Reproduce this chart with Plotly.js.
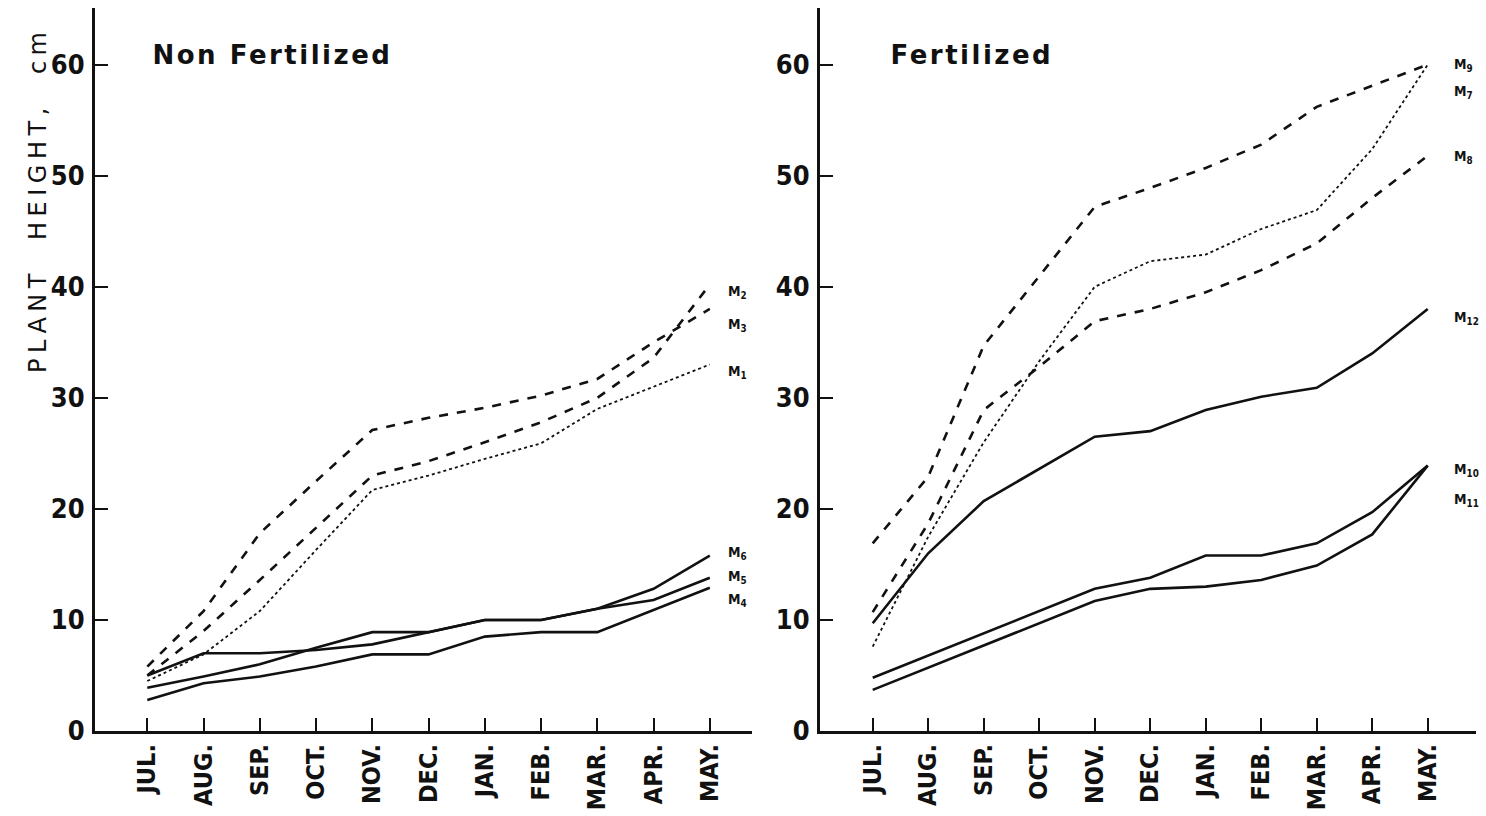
<!DOCTYPE html>
<html>
<head>
<meta charset="utf-8">
<script src="https://cdn.plot.ly/plotly-3.0.1.min.js"></script>
<style>
html,body{margin:0;padding:0;background:#fff;}
#chart{width:1486px;height:816px;}
</style>
</head>
<body>
<div id="chart"></div>
<script>
// Months (x categories)
const months = ['JUL.','AUG.','SEP.','OCT.','NOV.','DEC.','JAN.','FEB.','MAR.','APR.','MAY.'];

// Non Fertilized panel
const M1 = [4.5, 6.9, 10.8, 16.3, 21.7, 23.0, 24.5, 25.9, 29.0, 31.0, 33.0];
const M2 = [5.0, 9.0, 13.6, 18.3, 23.0, 24.3, 26.0, 27.8, 30.0, 33.6, 40.2];
const M3 = [5.8, 10.8, 17.8, 22.5, 27.1, 28.2, 29.1, 30.2, 31.7, 35.0, 38.0];
const M4 = [2.8, 4.3, 4.9, 5.8, 6.9, 6.9, 8.5, 8.9, 8.9, 10.9, 12.9];
const M5 = [5.0, 7.0, 7.0, 7.3, 7.8, 8.9, 10.0, 10.0, 11.0, 11.8, 13.8];
const M6 = [3.9, 4.9, 6.0, 7.5, 8.9, 8.9, 10.0, 10.0, 11.0, 12.8, 15.8];

// Fertilized panel
const M7  = [7.6, 17.5, 26.0, 33.3, 40.0, 42.3, 42.9, 45.2, 46.9, 52.4, 60.0];
const M8  = [10.7, 18.7, 28.9, 32.8, 36.9, 38.0, 39.5, 41.5, 43.9, 48.0, 51.8];
const M9  = [16.9, 22.9, 34.7, 41.0, 47.2, 48.9, 50.7, 52.8, 56.2, 58.1, 60.0];
const M10 = [4.8, 6.8, 8.8, 10.8, 12.8, 13.8, 15.8, 15.8, 16.9, 19.7, 23.9];
const M11 = [3.7, 5.7, 7.7, 9.7, 11.7, 12.8, 13.0, 13.6, 14.9, 17.7, 23.9];
const M12 = [9.7, 16.0, 20.7, 23.6, 26.5, 27.0, 28.9, 30.1, 30.9, 34.0, 38.0];

// Series label names and their label heights (cm)
const leftNames  = ['2','3','1','6','5','4'];
const leftLabelY = [39.5, 36.6, 32.3, 16.0, 13.9, 11.8];
const rightNames  = ['9','7','8','12','10','11'];
const rightLabelY = [60.0, 57.5, 51.7, 37.2, 23.5, 20.8];

const yTicks = [0,10,20,30,40,50,60];

function tr(y, xa, ya, dash, w){
  return {x: months, y: y, xaxis: xa, yaxis: ya, type:'scatter', mode:'lines',
          line:{color:'#111', width:w, dash:dash}, hoverinfo:'skip', showlegend:false};
}

const data = [
  tr(M1,'x','y','dot',1.8),
  tr(M2,'x','y','dash',2.6),
  tr(M3,'x','y','dash',2.6),
  tr(M4,'x','y','solid',2.6),
  tr(M5,'x','y','solid',2.6),
  tr(M6,'x','y','solid',2.6),
  tr(M7,'x2','y2','dot',1.8),
  tr(M8,'x2','y2','dash',2.6),
  tr(M9,'x2','y2','dash',2.6),
  tr(M10,'x2','y2','solid',2.6),
  tr(M11,'x2','y2','solid',2.6),
  tr(M12,'x2','y2','solid',2.6)
];

const fontFam = 'DejaVu Sans, Arial, sans-serif';
const condFam = 'DejaVu Sans Condensed, DejaVu Sans, Arial, sans-serif';

function xax(domain, range){
  return {domain: domain, range: range, type:'category', showgrid:false, zeroline:false,
    showline:true, linecolor:'#111', linewidth:3, ticks:'inside', ticklen:13, tickwidth:2,
    tickcolor:'#111', tickangle:-90, tickfont:{family:condFam, size:25, color:'#111', weight:'bold'},
    anchor: domain[0] < 0.5 ? 'y' : 'y2', fixedrange:true};
}
function yax(domain, anchor){
  return {domain: domain, range:[0, 65.1], showgrid:false, zeroline:false, showline:true,
    linecolor:'#111', linewidth:3, ticks:'inside', ticklen:13, tickwidth:2, tickcolor:'#111',
    tickvals: yTicks, ticktext: yTicks.map(String), ticklabelstandoff: 2,
    tickfont:{family:condFam, size:27, color:'#111', weight:'bold'}, anchor: anchor, fixedrange:true};
}

const annotations = [];
leftNames.forEach((n,i)=>annotations.push({xref:'x', yref:'y', x: months.length-1, y: leftLabelY[i],
  text:'M<sub>'+n+'</sub>', showarrow:false, xanchor:'left', yanchor:'middle', xshift:16,
  font:{family:condFam, size:14, color:'#111', weight:'bold'}}));
rightNames.forEach((n,i)=>annotations.push({xref:'x2', yref:'y2', x: months.length-1, y: rightLabelY[i],
  text:'M<sub>'+n+'</sub>', showarrow:false, xanchor:'left', yanchor:'middle', xshift:24,
  font:{family:condFam, size:14, color:'#111', weight:'bold'}}));
annotations.push({xref:'paper', yref:'paper', x:272/1486, y:1-55/816, text:'Non Fertilized',
  showarrow:false, xanchor:'center', yanchor:'middle', font:{family:fontFam, size:26, color:'#111', weight:'bold'}});
annotations.push({xref:'paper', yref:'paper', x:972/1486, y:1-55/816, text:'Fertilized',
  showarrow:false, xanchor:'center', yanchor:'middle', font:{family:fontFam, size:26, color:'#111', weight:'bold'}});
annotations.push({xref:'paper', yref:'paper', x:38/1486, y:1-200/816, text:'PLANT HEIGHT, cm',
  textangle:-90, showarrow:false, xanchor:'center', yanchor:'middle', font:{family:fontFam, size:24, color:'#111'}});

const yd = [(816-731)/816, (816-8)/816];
const layout = {
  width:1486, height:816, margin:{l:0,r:0,t:0,b:0}, paper_bgcolor:'#fff', plot_bgcolor:'#fff',
  showlegend:false,
  xaxis: xax([95/1486, 752/1486], [-0.93, 10.75]),
  yaxis: yax(yd, 'x'),
  xaxis2: xax([820/1486, 1476/1486], [-0.95, 10.87]),
  yaxis2: yax(yd, 'x2'),
  annotations: annotations
};

Plotly.newPlot('chart', data, layout, {staticPlot:true, displayModeBar:false}).then(function(){
  document.querySelectorAll('.annotation-text').forEach(function(el){
    const t = el.textContent;
    if (t === 'Non Fertilized' || t === 'Fertilized') { el.style.letterSpacing = '2.5px'; }
    if (t === 'PLANT HEIGHT, cm') { el.style.letterSpacing = '5.5px'; el.style.wordSpacing = '15px'; }
  });
});
</script>
</body>
</html>
